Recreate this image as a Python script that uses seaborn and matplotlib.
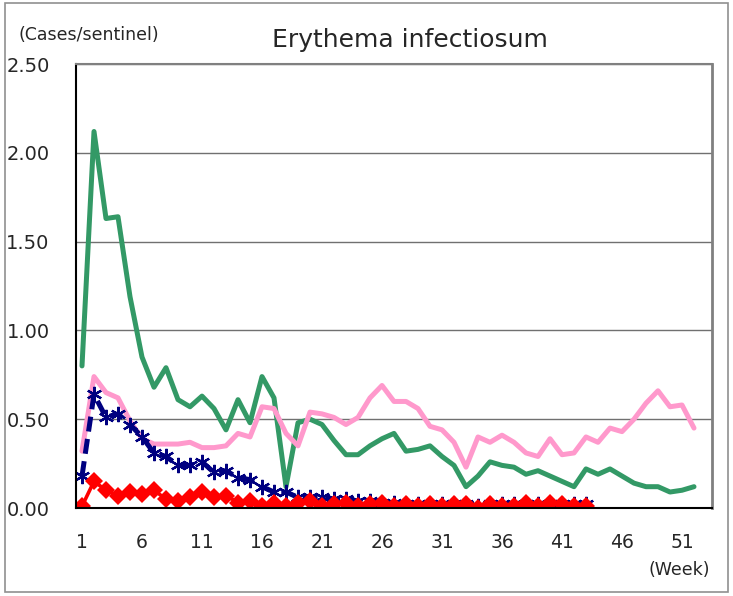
import matplotlib
matplotlib.use("Agg")
import matplotlib.pyplot as plt
import seaborn as sns
import pandas as pd
from matplotlib.patches import Rectangle

# --- data (cases per sentinel, by week) ---
weeks_full = list(range(1, 53))
weeks_part = list(range(1, 44))

series_green = [0.80, 2.12, 1.63, 1.64, 1.19, 0.85, 0.68, 0.79, 0.61, 0.57,
                0.63, 0.56, 0.44, 0.61, 0.48, 0.74, 0.62, 0.12, 0.48, 0.50,
                0.47, 0.38, 0.30, 0.30, 0.35, 0.39, 0.42, 0.32, 0.33, 0.35,
                0.29, 0.24, 0.12, 0.18, 0.26, 0.24, 0.23, 0.19, 0.21, 0.18,
                0.15, 0.12, 0.22, 0.19, 0.22, 0.18, 0.14, 0.12, 0.12, 0.09,
                0.10, 0.12]

series_pink = [0.32, 0.74, 0.65, 0.62, 0.49, 0.39, 0.36, 0.36, 0.36, 0.37,
               0.34, 0.34, 0.35, 0.42, 0.40, 0.57, 0.56, 0.42, 0.35, 0.54,
               0.53, 0.51, 0.47, 0.51, 0.62, 0.69, 0.60, 0.60, 0.56, 0.46,
               0.44, 0.37, 0.23, 0.40, 0.37, 0.41, 0.37, 0.31, 0.29, 0.39,
               0.30, 0.31, 0.40, 0.37, 0.45, 0.43, 0.50, 0.59, 0.66, 0.57,
               0.58, 0.45]

series_navy = [0.18, 0.64, 0.51, 0.53, 0.47, 0.40, 0.31, 0.29, 0.24, 0.24,
               0.26, 0.20, 0.21, 0.17, 0.16, 0.12, 0.09, 0.09, 0.06, 0.06,
               0.06, 0.05, 0.05, 0.04, 0.04, 0.03, 0.03, 0.02, 0.02, 0.02,
               0.02, 0.02, 0.02, 0.01, 0.02, 0.02, 0.02, 0.02, 0.02, 0.02,
               0.02, 0.02, 0.02]

series_red = [0.01, 0.15, 0.10, 0.07, 0.09, 0.08, 0.10, 0.05, 0.04, 0.06,
              0.09, 0.06, 0.07, 0.03, 0.04, 0.01, 0.03, 0.01, 0.03, 0.04,
              0.01, 0.02, 0.03, 0.01, 0.02, 0.03, 0.01, 0.02, 0.01, 0.02,
              0.01, 0.02, 0.02, 0.00, 0.02, 0.01, 0.01, 0.03, 0.01, 0.03,
              0.02, 0.01, 0.01]

x_tick_labels = [1, 6, 11, 16, 21, 26, 31, 36, 41, 46, 51]
y_ticks = [0.0, 0.5, 1.0, 1.5, 2.0, 2.5]

df_full = pd.DataFrame({"week": weeks_full, "green": series_green, "pink": series_pink})
df_part = pd.DataFrame({"week": weeks_part, "navy": series_navy, "red": series_red})

sns.set_style("white")
plt.rcParams["font.family"] = ["DejaVu Sans"]

fig = plt.figure(figsize=(7.33, 5.96), dpi=100)
ax = fig.add_axes([76 / 733, 1 - 508 / 596, (712 - 76) / 733, (508 - 64) / 596])

# --- lines ---
sns.lineplot(data=df_full, x="week", y="green", ax=ax, color="#339966", lw=3.6)
sns.lineplot(data=df_full, x="week", y="pink", ax=ax, color="#FF99CC", lw=3.6)
sns.lineplot(data=df_part, x="week", y="navy", ax=ax, color="#000080", lw=3.6,
             linestyle=(0, (3, 1.5)), marker=(6, 2, 0), markersize=11,
             markeredgewidth=1.6, markeredgecolor="#000080")
sns.lineplot(data=df_part, x="week", y="red", ax=ax, color="#FF0000", lw=2.6,
             marker="D", markersize=9, markeredgewidth=0, markerfacecolor="#FF0000")

# --- axes ---
ax.set_xlim(0.5, 53.5)
ax.set_ylim(0, 2.5)
ax.set_xticks(x_tick_labels)
ax.set_xticklabels([str(v) for v in x_tick_labels])
ax.set_xticks([w - 0.5 for w in x_tick_labels[1:]], minor=True)
ax.tick_params(axis="x", which="major", length=0, pad=18, labelsize=13.5)
ax.tick_params(axis="x", which="minor", direction="in", length=6, width=1, color="#555555")
ax.set_yticks(y_ticks)
ax.set_yticklabels([f"{v:.2f}" for v in y_ticks])
ax.tick_params(axis="y", length=0, pad=19, labelsize=14)

ax.grid(axis="y", color="#707070", lw=1)
ax.set_axisbelow(True)
ax.set_xlabel("")
ax.set_ylabel("")

ax.spines["left"].set_color("#000000")
ax.spines["bottom"].set_color("#000000")
ax.spines["left"].set_linewidth(1.5)
ax.spines["bottom"].set_linewidth(1.5)
ax.spines["top"].set_color("#808080")
ax.spines["right"].set_color("#808080")
ax.spines["top"].set_linewidth(1.5)
ax.spines["right"].set_linewidth(2)

# --- texts ---
fig.text(410 / 733, 1 - 40 / 596, "Erythema infectiosum", ha="center", va="center", fontsize=18)
fig.text(18 / 733, 1 - 35 / 596, "(Cases/sentinel)", ha="left", va="center", fontsize=12.5)
fig.text(710 / 733, 1 - 570 / 596, "(Week)", ha="right", va="center", fontsize=12.5)

# chart area border
fig.patches.append(Rectangle((5 / 733, 4 / 596), 723 / 733, 589 / 596, transform=fig.transFigure,
                             fill=False, edgecolor="#909090", lw=1.2))

fig.savefig("out.png", dpi=100)
